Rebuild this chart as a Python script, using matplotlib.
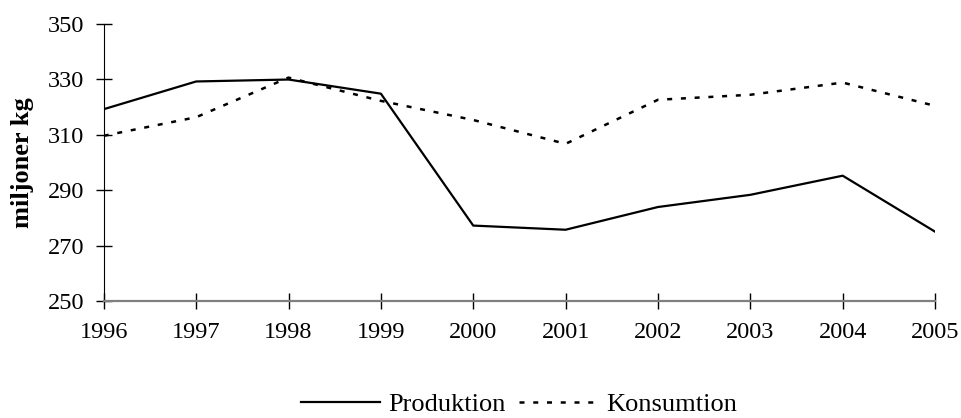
import matplotlib.pyplot as plt

plt.rcParams['font.family'] = ['Liberation Serif', 'DejaVu Serif']

years = [1996, 1997, 1998, 1999, 2000, 2001, 2002, 2003, 2004, 2005]
produktion = [319.2, 329.2, 329.9, 324.8, 277.2, 275.7, 283.9, 288.3, 295.2, 275.0]
konsumtion = [309.6, 316.3, 330.6, 322.2, 315.3, 306.7, 322.6, 324.4, 328.8, 320.4]

fig = plt.figure(figsize=(9.61, 4.18), dpi=100)
ax = fig.add_axes([0.108, 0.280, 0.865, 0.663])

ax.plot(years, produktion, color="black", lw=1.6, label="Produktion")
ax.plot(years, konsumtion, color="black", lw=1.8, linestyle=(0, (2, 3.5)), label="Konsumtion")

ax.set_xlim(1996, 2005)
ax.set_ylim(250, 350)
ax.set_xticks(years)
ax.set_yticks(range(250, 351, 20))
ax.tick_params(axis="both", direction="inout", length=12, width=1, labelsize=17.5, colors="black")
ax.tick_params(axis="x", pad=9)
ax.tick_params(axis="y", pad=8)

ax.spines["top"].set_visible(False)
ax.spines["right"].set_visible(False)
ax.spines["left"].set_color("black")
ax.spines["bottom"].set_color("#808080")
ax.spines["bottom"].set_linewidth(1.6)

ax.set_ylabel("miljoner kg", fontsize=19, fontweight="bold", labelpad=10)

fig.legend(loc="lower center", bbox_to_anchor=(0.54, -0.052), ncol=2, frameon=False,
           fontsize=19, handlelength=3.0, columnspacing=0.5, handletextpad=0.3)

fig.savefig("out.png", dpi=100)
